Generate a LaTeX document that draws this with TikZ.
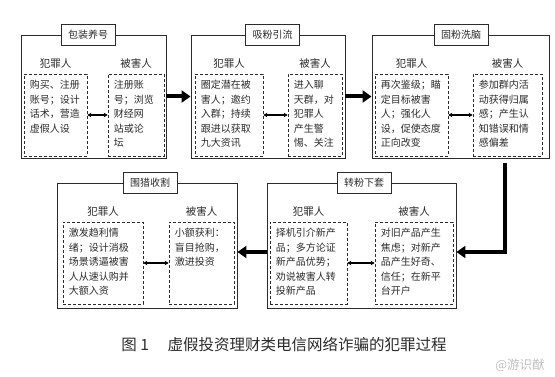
\documentclass[tikz,border=0pt]{standalone}
\usepackage{fontspec}
\setmainfont{Noto Sans CJK SC}
\usetikzlibrary{positioning,arrows.meta}
\definecolor{inkgray}{HTML}{2B2B2B}

\tikzset{
  outerbox/.style={draw=inkgray, line width=0.9pt, minimum height=123pt},
  titlebox/.style={draw=inkgray, line width=0.9pt, fill=white, minimum width=54pt, minimum height=21pt, font=\fontsize{10}{11}\selectfont, text=inkgray},
  dashbox/.style={draw=inkgray, densely dashed, line width=0.7pt, minimum height=82pt},
  roletext/.style={font=\fontsize{10.5}{12}\selectfont, inner sep=1pt, text=inkgray},
  bodytext/.style={anchor=north west, align=left, inner xsep=6pt, inner ysep=6.5pt, font=\fontsize{10}{14.5}\selectfont, text=inkgray},
  flowarrow/.style={draw=black, line width=4pt, -{Triangle[length=9pt,width=12pt]}},
  linkarrow/.style={draw=black, line width=1.1pt, {Stealth[length=4pt,width=4.5pt]}-{Stealth[length=4pt,width=4.5pt]}},
}

\begin{document}
\begin{tikzpicture}[x=1pt, y=-1pt]
    \useasboundingbox (0,0) rectangle (555,377);

    % stage frames
    \node[outerbox, minimum width=145pt] (s1) at (93.5,96.5) {};
    \node[outerbox, minimum width=154pt] (s2) at (268,96.5) {};
    \node[outerbox, minimum width=177pt] (s3) at (460.5,96.5) {};
    \node[outerbox, minimum width=180pt, minimum height=125pt] (s4) at (147,245.5) {};
    \node[outerbox, minimum width=189pt, minimum height=125pt] (s5) at (361.5,245.5) {};

    % stage titles
    \node[titlebox] (t1) at (88,35) {包装养号};
    \node[titlebox] (t2) at (272.5,35) {吸粉引流};
    \node[titlebox] (t3) at (461,35) {固粉洗脑};
    \node[titlebox] (t4) at (150,183) {围猎收割};
    \node[titlebox] (t5) at (364,183) {转粉下套};

    % dashed boxes: c = 犯罪人, v = 被害人
    \node[dashbox, minimum width=63pt] (c1) at (55.5,115) {};
    \node[dashbox, minimum width=56pt] (v1) at (136,115) {};
    \node[dashbox, minimum width=68pt] (c2) at (229,115) {};
    \node[dashbox, minimum width=54pt] (v2) at (315,115) {};
    \node[dashbox, minimum width=73pt] (c3) at (411.5,115) {};
    \node[dashbox, minimum width=69pt] (v3) at (507.5,115) {};
    \node[dashbox, minimum width=80pt] (c4) at (103,263) {};
    \node[dashbox, minimum width=65pt] (v4) at (201.5,263) {};
    \node[dashbox, minimum width=77pt] (c5) at (308.5,263) {};
    \node[dashbox, minimum width=78pt] (v5) at (414,263) {};

    \foreach \k in {1,...,5} {
        \node[roletext, above=4pt of c\k] (c\k l) {犯罪人};
        \node[roletext, above=4pt of v\k] (v\k l) {被害人};
    }

    \node[bodytext] (c1t) at (c1.north west) {购买、注册\\账号；设计\\话术，营造\\虚假人设};
    \node[bodytext] (v1t) at (v1.north west) {注册账\\号；浏览\\财经网\\站或论\\坛};
    \node[bodytext] (c2t) at (c2.north west) {圈定潜在被\\害人；邀约\\入群；持续\\跟进以获取\\九大资讯};
    \node[bodytext] (v2t) at (v2.north west) {进入聊\\天群，对\\犯罪人\\产生警\\惕、关注};
    \node[bodytext] (c3t) at (c3.north west) {再次鉴级；瞄\\定目标被害\\人；强化人\\设，促使态度\\正向改变};
    \node[bodytext] (v3t) at (v3.north west) {参加群内活\\动获得归属\\感；产生认\\知错误和情\\感偏差};
    \node[bodytext] (c4t) at (c4.north west) {激发趋利情\\绪；设计消极\\场景诱逼被害\\人从速认购并\\大额入资};
    \node[bodytext] (v4t) at (v4.north west) {小额获利：\\盲目抢购，\\激进投资};
    \node[bodytext] (c5t) at (c5.north west) {择机引介新产\\品；多方论证\\新产品优势；\\劝说被害人转\\投新产品};
    \node[bodytext] (v5t) at (v5.north west) {对旧产品产生\\焦虑；对新产\\品产生好奇、\\信任；在新平\\台开户};

    % flow between stages
    \draw[flowarrow] (s1) -- (s2);
    \draw[flowarrow] (s2) -- (s3);
    \coordinate (turn) at (505,252);
    \draw[flowarrow, shorten <=5pt] (s3.south -| turn) -- (turn) -- (s5.east |- turn);
    \draw[flowarrow] (s5.west |- turn) -- (s4.east |- turn);

    % interaction inside stages
    \foreach \k in {1,...,5}
        \draw[linkarrow] (c\k) -- (v\k);

    \node[font=\fontsize{15.5}{18}\selectfont, text=inkgray] (cap) at (284,345) {图 1\hspace{1.2em}虚假投资理财类电信网络诈骗的犯罪过程};
    \node[font=\fontsize{12.5}{14}\selectfont, text=black!25] (mark) at (520,365) {@游识猷};
\end{tikzpicture}
\end{document}
